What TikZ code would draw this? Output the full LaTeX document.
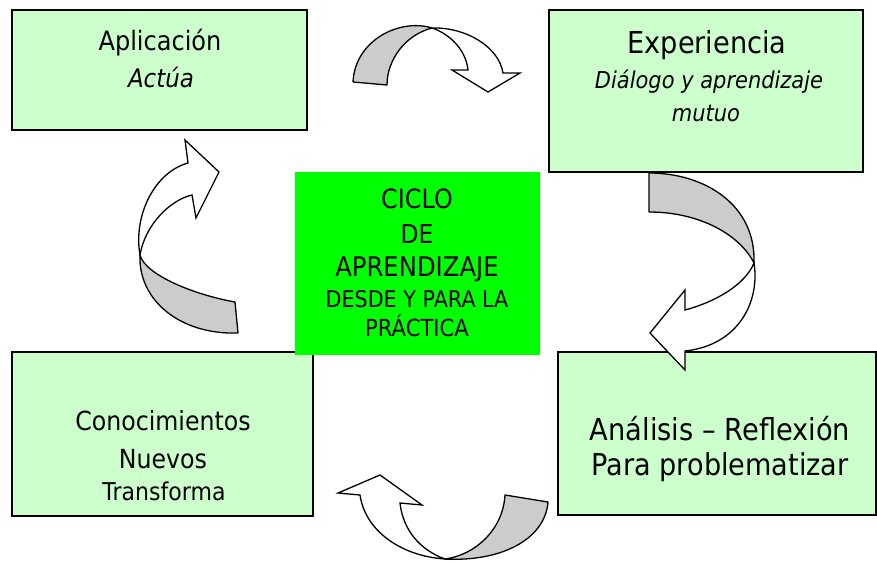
\documentclass[tikz,border=0pt]{standalone}
\usepackage{fontspec}
\setmainfont[FakeStretch=0.9]{DejaVu Sans}
\definecolor{boxgreen}{HTML}{CCFFCC}
\definecolor{centgreen}{HTML}{00FF00}
\definecolor{ribbon}{HTML}{CCCCCC}
\newcommand{\setfs}[1]{\fontsize{#1}{#1}\selectfont}
\tikzset{
 panel/.style={draw=black, line width=1.3pt, fill=boxgreen, inner sep=0pt, outer sep=0pt, rectangle},
 hub/.style={fill=centgreen, inner sep=0pt, outer sep=0pt, rectangle},
 lbl/.style={anchor=base, inner sep=0pt, text=black},
 back/.style={draw=black, line width=1.3pt, fill=ribbon, line join=round},
 front/.style={draw=black, line width=1.3pt, fill=white, line join=miter},
}
\begin{document}
\begin{tikzpicture}[x=1pt,y=-1pt]
\useasboundingbox (0,0) rectangle (877,562);
\fill[white] (0,0) rectangle (877,562);

% boxes
\node[panel, minimum width=295pt, minimum height=120pt] (apl) at (159.5,70) {};
\node[panel, minimum width=314pt, minimum height=162pt] (exp) at (706,91) {};
\node[panel, minimum width=301pt, minimum height=164pt] (con) at (162.5,434) {};
\node[panel, minimum width=318pt, minimum height=163pt] (ana) at (717,433.5) {};
\node[hub, minimum width=245pt, minimum height=183pt] (cic) at (417.5,263.5) {};

% texts
\node[lbl, font=\setfs{26.7}] (t1) at (160,50.7) {Aplicación};
\node[lbl, font=\setfs{25.5}\itshape] (t2) at (161,87.3) {Actúa};

\node[lbl, font=\setfs{30.2}] (t3) at (707,53) {Experiencia};
\node[lbl, font=\setfs{23.3}\itshape] (t4) at (709,88) {Diálogo y aprendizaje};
\node[lbl, font=\setfs{23.3}\itshape] (t5) at (706,121.5) {mutuo};

\node[lbl, font=\setfs{26.3}] (t6) at (163,430) {Conocimientos};
\node[lbl, font=\setfs{26.3}] (t7) at (163,468.3) {Nuevos};
\node[lbl, font=\setfs{24.5}] (t8) at (164,500) {Transforma};

\node[lbl, font=\setfs{30.3}] (t9) at (720,440) {Análisis – Reflexión};
\node[lbl, font=\setfs{30.1}] (t10) at (720,475) {Para problematizar};

\node[lbl, font=\setfs{26.5}] (c1) at (417,208.3) {CICLO};
\node[lbl, font=\setfs{26}] (c2) at (417,243.3) {DE};
\node[lbl, font=\setfs{27}] (c3) at (417,276) {APRENDIZAJE};
\node[lbl, font=\setfs{23}] (c4) at (417,307.5) {DESDE Y PARA LA};
\node[lbl, font=\setfs{23.5}] (c5) at (417,336) {PRÁCTICA};

% top arrow (Aplicación -> Experiencia)
\draw[back] (353,82) .. controls (355,40) and (400,18) .. (432,28)
  .. controls (405,35) and (387,60) .. (387,85) -- cycle;
\draw[front] (432,28) .. controls (466,27) and (499,47) .. (503,73)
  -- (520,73) -- (488,92) -- (452,70) -- (468,70)
  .. controls (466,50) and (450,34) .. (432,28) -- cycle;

% right arrow (Experiencia -> Análisis)
\draw[back] (649,173) .. controls (705,173) and (756,205) .. (754,263)
  .. controls (740,235) and (700,212) .. (649,212) -- cycle;
\draw[front] (754,263) .. controls (760,300) and (740,345) .. (685,351)
  -- (685,370) -- (650,333) -- (685,290) -- (685,310)
  .. controls (715,302) and (745,285) .. (754,263) -- cycle;

% bottom arrow (Análisis -> Conocimientos)
\draw[back] (548,502) .. controls (545,540) and (500,562) .. (445,559)
  .. controls (475,555) and (503,530) .. (505,495) -- cycle;
\draw[front] (445,559) .. controls (400,556) and (365,530) .. (360,495)
  -- (338,493) -- (380,475) -- (422,505) -- (400,503)
  .. controls (403,530) and (420,550) .. (445,559) -- cycle;

% left arrow (Conocimientos -> Aplicación)
\draw[back] (238,333) .. controls (180,335) and (138,300) .. (140,255)
  .. controls (145,275) and (195,295) .. (235,302) -- cycle;
\draw[front] (140,255) .. controls (133,215) and (155,172) .. (188,163)
  -- (185,140) -- (219,172) -- (196,218) -- (192,195)
  .. controls (170,200) and (145,225) .. (140,255) -- cycle;
\end{tikzpicture}
\end{document}
